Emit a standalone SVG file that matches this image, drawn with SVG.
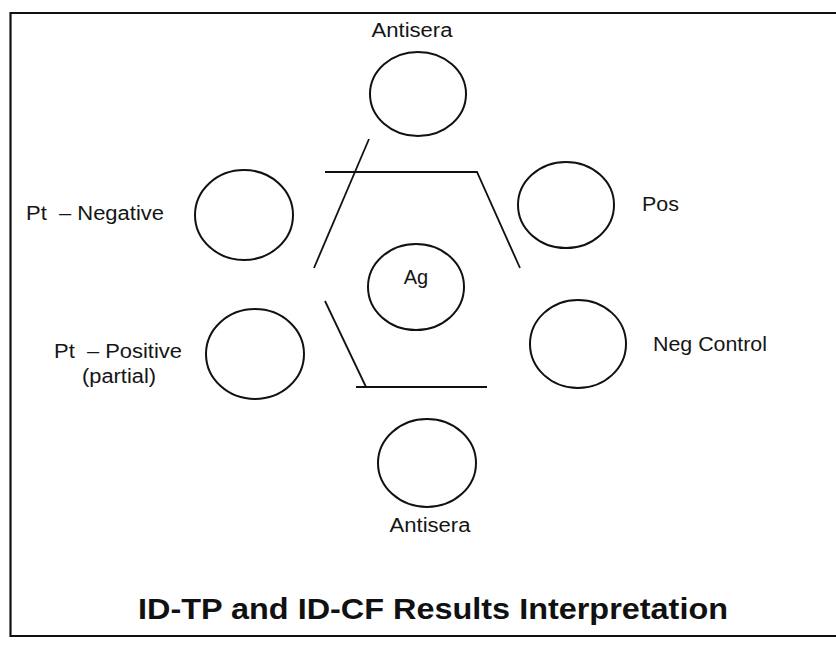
<svg xmlns="http://www.w3.org/2000/svg" width="836" height="645" viewBox="0 0 836 645">
<style>
.w{fill:none;stroke:#111;stroke-width:2}
.c{fill:none;stroke:#111;stroke-width:1.8}
.t{font-family:"Liberation Sans",Arial,sans-serif;font-size:20px;fill:#151515}
.h{font-family:"Liberation Sans",Arial,sans-serif;font-size:30px;font-weight:bold;fill:#111}
</style>
<rect width="836" height="645" fill="#fff"/>
<path d="M836,13 H10.5 V636 H836" fill="none" stroke="#111" stroke-width="2.2"/>
<g id="connectors">
<path class="c" d="M369,139 L314,268"/>
<path class="c" d="M325,172 H477 L520,268"/>
<path class="c" d="M325,301 L366,387"/>
<path class="c" d="M356,387 H487"/>
</g>
<g id="antisera-top">
<ellipse class="w" cx="418" cy="94" rx="48" ry="42"/>
<text class="t" x="412" y="37" text-anchor="middle" textLength="81" lengthAdjust="spacingAndGlyphs">Antisera</text>
</g>
<g id="pt-negative">
<ellipse class="w" cx="244" cy="215" rx="49" ry="45"/>
<text class="t" x="26" y="220" textLength="138" lengthAdjust="spacingAndGlyphs" xml:space="preserve">Pt  – Negative</text>
</g>
<g id="pos">
<ellipse class="w" cx="566" cy="205" rx="48" ry="43"/>
<text class="t" x="642" y="211" textLength="37" lengthAdjust="spacingAndGlyphs">Pos</text>
</g>
<g id="ag">
<ellipse class="w" cx="416" cy="287" rx="48" ry="43"/>
<text class="t" x="416" y="284" text-anchor="middle">Ag</text>
</g>
<g id="pt-positive">
<ellipse class="w" cx="255" cy="354" rx="49" ry="45"/>
<text class="t" x="54" y="358" textLength="128" lengthAdjust="spacingAndGlyphs" xml:space="preserve">Pt  – Positive</text>
<text class="t" x="82" y="383" textLength="74" lengthAdjust="spacingAndGlyphs">(partial)</text>
</g>
<g id="neg-control">
<ellipse class="w" cx="578" cy="344" rx="48" ry="44"/>
<text class="t" x="653" y="351" textLength="114" lengthAdjust="spacingAndGlyphs">Neg Control</text>
</g>
<g id="antisera-bottom">
<ellipse class="w" cx="427" cy="463" rx="49" ry="44"/>
<text class="t" x="430" y="532" text-anchor="middle" textLength="81" lengthAdjust="spacingAndGlyphs">Antisera</text>
</g>
<text class="h" x="433" y="619" text-anchor="middle" textLength="590" lengthAdjust="spacingAndGlyphs">ID-TP and ID-CF Results Interpretation</text>
</svg>
